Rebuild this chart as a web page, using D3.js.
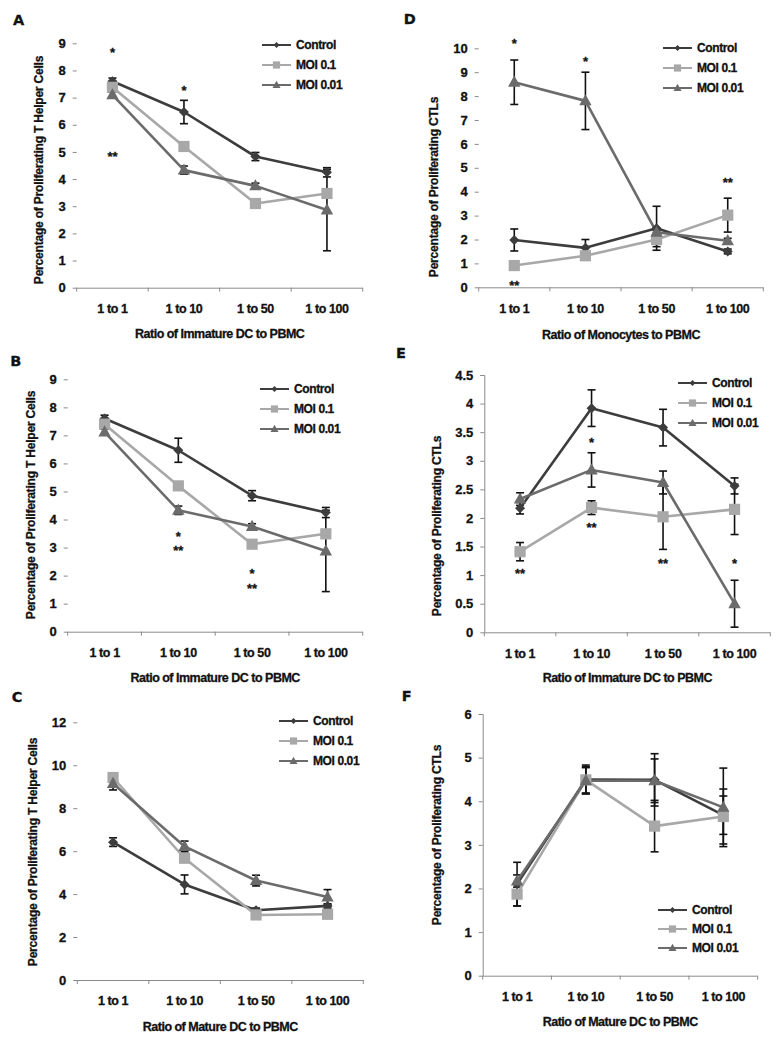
<!DOCTYPE html>
<html><head><meta charset="utf-8">
<script src="https://cdn.jsdelivr.net/npm/d3@7"></script>
<style>
body{margin:0;background:#fff}
svg{display:block}
text{font-family:"Liberation Sans",Arial,sans-serif;font-weight:bold;fill:#111;stroke:#111;stroke-width:0.3px}
</style>
</head><body>
<svg id="chart" width="782" height="1050"></svg>
<script>
// ---------- DATA ----------
const categories = ["1 to 1", "1 to 10", "1 to 50", "1 to 100"];
const seriesNames = ["Control", "MOI 0.1", "MOI 0.01"];

// Panel A
const aControl = [7.6, 6.47, 4.83, 4.25];
const aControlErr = [0.12, 0.43, 0.15, 0.17];
const aMoi01 = [7.38, 5.2, 3.1, 3.47];
const aMoi01Err = [0.1, 0.1, 0.1, 0.1];
const aMoi001 = [7.1, 4.33, 3.75, 2.86];
const aMoi001Err = [0.1, 0.15, 0.1, 1.5];
const aTicks = [0, 1, 2, 3, 4, 5, 6, 7, 8, 9];
const aStars = [{c: 0, v: 8.75, t: "*"}, {c: 1, v: 7.35, t: "*"}, {c: 0, v: 4.93, t: "**"}];

// Panel B
const bControl = [7.6, 6.47, 4.85, 4.25];
const bControlErr = [0.12, 0.43, 0.18, 0.18];
const bMoi01 = [7.4, 5.2, 3.12, 3.49];
const bMoi01Err = [0.1, 0.1, 0.1, 0.1];
const bMoi001 = [7.12, 4.33, 3.75, 2.88];
const bMoi001Err = [0.1, 0.15, 0.1, 1.45];
const bTicks = [0, 1, 2, 3, 4, 5, 6, 7, 8, 9];
const bStars = [{c: 1, v: 3.5, t: "*"}, {c: 1, v: 2.97, t: "**"}, {c: 2, v: 2.18, t: "*"}, {c: 2, v: 1.63, t: "**"}];

// Panel C
const cControl = [6.42, 4.45, 3.25, 3.45];
const cControlErr = [0.2, 0.44, 0.1, 0.1];
const cMoi01 = [9.43, 5.67, 3.03, 3.06];
const cMoi01Err = [0.1, 0.1, 0.1, 0.1];
const cMoi001 = [9.15, 6.22, 4.63, 3.86];
const cMoi001Err = [0.3, 0.25, 0.25, 0.35];
const cTicks = [0, 2, 4, 6, 8, 10, 12];
const cStars = [];

// Panel D
const dControl = [1.98, 1.65, 2.47, 1.5];
const dControlErr = [0.46, 0.35, 0.92, 0.1];
const dMoi01 = [0.91, 1.32, 2.0, 3.02];
const dMoi01Err = [0.1, 0.1, 0.3, 0.71];
const dMoi001 = [8.58, 7.8, 2.3, 1.95];
const dMoi001Err = [0.93, 1.2, 0.1, 0.1];
const dTicks = [0, 1, 2, 3, 4, 5, 6, 7, 8, 9, 10];
const dStars = [{c: 0, v: 10.3, t: "*"}, {c: 1, v: 9.55, t: "*"}, {c: 3, v: 4.5, t: "**"}, {c: 0, v: 0.17, t: "**"}];

// Panel E
const eControl = [2.17, 3.92, 3.58, 2.56];
const eControlErr = [0.1, 0.32, 0.32, 0.14];
const eMoi01 = [1.41, 2.18, 2.02, 2.15];
const eMoi01Err = [0.16, 0.12, 0.57, 0.44];
const eMoi001 = [2.33, 2.84, 2.62, 0.5];
const eMoi001Err = [0.11, 0.3, 0.2, 0.41];
const eTicks = [0, 0.5, 1, 1.5, 2, 2.5, 3, 3.5, 4, 4.5];
const eStars = [{c: 0, v: 1.08, t: "**"}, {c: 1, v: 3.37, t: "*"}, {c: 1, v: 1.88, t: "**"}, {c: 2, v: 1.24, t: "**"}, {c: 3, v: 1.24, t: "*"}];

// Panel F
const fControl = [2.1, 4.5, 4.49, 3.68];
const fControlErr = [0.5, 0.33, 0.6, 0.44];
const fMoi01 = [1.87, 4.49, 3.43, 3.65];
const fMoi01Err = [0.27, 0.3, 0.59, 0.63];
const fMoi001 = [2.17, 4.47, 4.47, 3.86];
const fMoi001Err = [0.14, 0.3, 0.5, 0.9];
const fTicks = [0, 1, 2, 3, 4, 5, 6];
const fStars = [];

const yTitleTH = "Percentage of Proliferating T Helper Cells";
const yTitleCTL = "Percentage of Proliferating CTLs";

// ---------- LAYOUT / STYLE ----------
const colors = ["#3d3d3d", "#a8a8a8", "#6b6b6b"];
const shapes = ["diamond", "square", "triangle"];

const panels = [
  {id: "A", series: [[aControl, aControlErr], [aMoi01, aMoi01Err], [aMoi001, aMoi001Err]], ticks: aTicks, stars: aStars,
   yTitle: yTitleTH, xTitle: "Ratio of Immature DC to PBMC",
   L: {x0: 76.7, x1: 362.7, yTop: 43.3, yBot: 287.7, lab: [18.7, 19.5], ytx: 39, yty: 170, tickY: 309, xtY: 334, legX: 262, legRows: [45, 65, 85]}},
  {id: "B", series: [[bControl, bControlErr], [bMoi01, bMoi01Err], [bMoi001, bMoi001Err]], ticks: bTicks, stars: bStars,
   yTitle: yTitleTH, xTitle: "Ratio of Immature DC to PBMC",
   L: {x0: 67.7, x1: 362.7, yTop: 379.3, yBot: 631.7, lab: [15.8, 360.5], ytx: 31, yty: 505, tickY: 652.7, xtY: 678, legX: 260, legRows: [389, 409, 429]}},
  {id: "C", series: [[cControl, cControlErr], [cMoi01, cMoi01Err], [cMoi001, cMoi001Err]], ticks: cTicks, stars: cStars,
   yTitle: yTitleTH, xTitle: "Ratio of Mature DC to PBMC",
   L: {x0: 77.3, x1: 363.3, yTop: 722.3, yBot: 980, lab: [17, 697], ytx: 33, yty: 852, tickY: 1001, xtY: 1027, legX: 279, legRows: [721, 741, 761]}},
  {id: "D", series: [[dControl, dControlErr], [dMoi01, dMoi01Err], [dMoi001, dMoi001Err]], ticks: dTicks, stars: dStars,
   yTitle: yTitleCTL, xTitle: "Ratio of Monocytes to PBMC",
   L: {x0: 478.7, x1: 763.3, yTop: 48.3, yBot: 287.3, lab: [409.7, 18.3], ytx: 434, yty: 187, tickY: 309, xtY: 335, legX: 663, legRows: [48, 68, 88]}},
  {id: "E", series: [[eControl, eControlErr], [eMoi01, eMoi01Err], [eMoi001, eMoi001Err]], ticks: eTicks, stars: eStars,
   yTitle: yTitleCTL, xTitle: "Ratio of Immature DC to PBMC",
   L: {x0: 484.3, x1: 770.3, yTop: 375, yBot: 632.3, lab: [401, 353], ytx: 436.7, yty: 526, tickY: 654, xtY: 678, legX: 678, legRows: [383, 403, 423]}},
  {id: "F", series: [[fControl, fControlErr], [fMoi01, fMoi01Err], [fMoi001, fMoi001Err]], ticks: fTicks, stars: fStars,
   yTitle: yTitleCTL, xTitle: "Ratio of Mature DC to PBMC",
   L: {x0: 482.7, x1: 757.7, yTop: 714, yBot: 975.7, lab: [406.8, 695.8], ytx: 436.7, yty: 835, tickY: 997, xtY: 1022, legX: 658, legRows: [910, 929, 948]}}
];

const svg = d3.select("#chart");

function markerPath(shape, r) {
  if (shape === "diamond") return `M0,${-r}L${r},0L0,${r}L${-r},0Z`;
  if (shape === "square") return `M${-r},${-r}H${r}V${r}H${-r}Z`;
  const h = r * 1.8;
  return `M0,${-h * 0.6}L${r},${h * 0.4}L${-r},${h * 0.4}Z`;
}
const markerR = [5, 5.6, 6.2];

panels.forEach(p => {
  const L = p.L;
  const g = svg.append("g");
  const x = d3.scaleBand().domain(categories).range([L.x0, L.x1]).paddingInner(0).paddingOuter(0);
  const xc = c => x(c) + x.bandwidth() / 2;
  const yMax = p.ticks[p.ticks.length - 1];
  const y = d3.scaleLinear().domain([0, yMax]).range([L.yBot, L.yTop]);

  // panel letter
  g.append("text").attr("x", L.lab[0]).attr("y", L.lab[1] + 5.2).attr("text-anchor", "middle")
    .style("font-size", "14.5px").style("font-family", "'DejaVu Sans',Arial,sans-serif").text(p.id);

  // y axis
  const yAxis = d3.axisLeft(y).tickValues(p.ticks).tickSize(4).tickPadding(7).tickFormat(d3.format("~g"));
  const ya = g.append("g").attr("transform", `translate(${L.x0},0)`).call(yAxis);
  ya.select(".domain").attr("stroke", "#8a8a8a").attr("d", `M-4,${L.yTop}.5H0.5V${L.yBot}`);
  ya.selectAll(".tick line").attr("stroke", "#8a8a8a");
  ya.selectAll(".tick text").style("font-size", "13px").style("font-family", "'Liberation Sans',Arial,sans-serif")
    .style("font-weight", "bold").attr("fill", "#111");

  // x axis line and boundary ticks
  g.append("line").attr("x1", L.x0).attr("x2", L.x1).attr("y1", L.yBot + 0.5).attr("y2", L.yBot + 0.5).attr("stroke", "#8a8a8a");
  const bounds = categories.map(c => x(c)).concat([L.x1]);
  g.selectAll(".xt").data(bounds).enter().append("line")
    .attr("x1", d => d).attr("x2", d => d).attr("y1", L.yBot).attr("y2", L.yBot + 4).attr("stroke", "#8a8a8a");
  g.selectAll(".xl").data(categories).enter().append("text")
    .attr("x", d => xc(d)).attr("y", L.tickY + 4.4).attr("text-anchor", "middle")
    .style("font-size", "12.5px").style("letter-spacing", "-0.4px").text(d => d);

  // titles
  g.append("text").attr("x", (L.x0 + L.x1) / 2).attr("y", L.xtY + 4.4).attr("text-anchor", "middle")
    .style("font-size", "12.5px").style("letter-spacing", "-0.5px").text(p.xTitle);
  g.append("text").attr("transform", `translate(${L.ytx + 4.3},${L.yty}) rotate(-90)`).attr("text-anchor", "middle")
    .style("font-size", "12px").style("letter-spacing", "-0.2px").text(p.yTitle);

  // error bars
  p.series.forEach(([vals, errs]) => {
    const eg = g.append("g").attr("stroke", "#111").attr("stroke-width", 1.6);
    vals.forEach((v, i) => {
      const cx = xc(categories[i]);
      const top = y(v + errs[i]), bot = y(Math.max(0, v - errs[i]));
      eg.append("line").attr("x1", cx).attr("x2", cx).attr("y1", top).attr("y2", bot);
      eg.append("line").attr("x1", cx - 4).attr("x2", cx + 4).attr("y1", top).attr("y2", top);
      eg.append("line").attr("x1", cx - 4).attr("x2", cx + 4).attr("y1", bot).attr("y2", bot);
    });
  });

  // lines + markers
  const line = d3.line().x((d, i) => xc(categories[i])).y(d => y(d));
  p.series.forEach(([vals], si) => {
    g.append("path").datum(vals).attr("d", line).attr("fill", "none")
      .attr("stroke", colors[si]).attr("stroke-width", 2.6).attr("stroke-linejoin", "round");
  });
  p.series.forEach(([vals], si) => {
    g.selectAll(null).data(vals).enter().append("path")
      .attr("transform", (d, i) => `translate(${xc(categories[i])},${y(d)})`)
      .attr("d", markerPath(shapes[si], markerR[si])).attr("fill", colors[si]);
  });

  // significance stars
  g.selectAll(".st").data(p.stars).enter().append("text")
    .attr("x", d => xc(categories[d.c])).attr("y", d => y(d.v) + 7).attr("text-anchor", "middle")
    .style("font-size", "13px").text(d => d.t);

  // legend
  seriesNames.forEach((name, si) => {
    const ry = L.legRows[si];
    g.append("line").attr("x1", L.legX).attr("x2", L.legX + 29).attr("y1", ry).attr("y2", ry)
      .attr("stroke", colors[si]).attr("stroke-width", 2);
    g.append("path").attr("transform", `translate(${L.legX + 14.5},${ry})`)
      .attr("d", markerPath(shapes[si], [3, 3.6, 4][si])).attr("fill", colors[si]);
    g.append("text").attr("x", L.legX + 34).attr("y", ry + 4.3)
      .style("font-size", "12px").style("letter-spacing", "-0.4px").text(name);
  });
});
</script>
</body></html>
